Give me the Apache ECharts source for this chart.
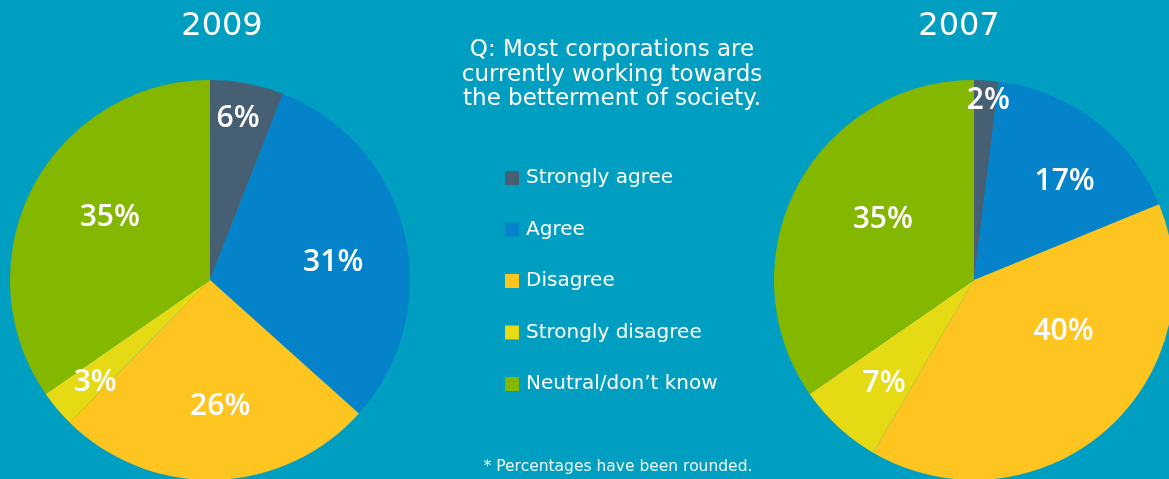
<!DOCTYPE html>
<html>
<head>
<meta charset="utf-8">
<style>
  html, body { margin: 0; padding: 0; background: #009FC1; }
  #chart { width: 1169px; height: 479px; }
</style>
<script src="https://cdn.jsdelivr.net/npm/echarts@6/dist/echarts.min.js"></script>
</head>
<body>
<div id="chart"></div>
<script>
// Survey answer categories (shared by both years)
const categories = ['Strongly agree', 'Agree', 'Disagree', 'Strongly disagree', 'Neutral/don\u2019t know'];
// Rounded percentages per year
const values2009 = [6, 31, 26, 3, 35];
const values2007 = [2, 17, 40, 7, 35];
const yearLabels = ['2009', '2007'];

const colors = ['#475F73', '#0483CA', '#FEC41F', '#E5DA13', '#84B800'];

// Small nudges for the percentage labels away from the slice mid-radius
const labelNudge2009 = [[9, -60], [23, 6], [7, 24], [-36, 36], [-9, -15]];
const labelNudge2007 = [[8, -77], [28, -17], [22, -26], [-20, 28], [0, -13]];

const FONT = '"Open Sans", "DejaVu Sans", sans-serif';
const WIDE = '"DejaVu Sans", "Open Sans", sans-serif';

function pieSeries(name, values, center, nudges) {
  return {
    name: name,
    type: 'pie',
    center: center,
    radius: 200,
    startAngle: 90,
    clockwise: true,
    silent: true,
    animation: false,
    itemStyle: { borderWidth: 0 },
    label: {
      show: true,
      position: 'inside',
      formatter: '{c}%',
      color: '#ffffff',
      fontFamily: FONT,
      fontWeight: 600,
      fontSize: 30
    },
    labelLine: { show: false },
    labelLayout: function (p) {
      const n = nudges[p.dataIndex];
      return { dx: n[0], dy: n[1] };
    },
    data: categories.map((c, i) => ({ name: c, value: values[i] }))
  };
}

const chart = echarts.init(document.getElementById('chart'), null, { renderer: 'canvas' });

chart.setOption({
  backgroundColor: '#009FC1',
  color: colors,
  legend: {
    orient: 'vertical',
    left: 505,
    top: 168,
    padding: 0,
    icon: 'rect',
    itemWidth: 14,
    itemHeight: 14,
    itemGap: 31.5,
    selectedMode: false,
    data: categories,
    textStyle: {
      color: '#ffffff',
      fontFamily: WIDE,
      fontSize: 20,
      lineHeight: 20,
      padding: [0, 0, 0, 2]
    }
  },
  graphic: [
    {
      type: 'text', x: 222, y: 27,
      style: { text: yearLabels[0], fill: '#fff', font: '32px ' + WIDE, textAlign: 'center', textVerticalAlign: 'middle' }
    },
    {
      type: 'text', x: 959, y: 27,
      style: { text: yearLabels[1], fill: '#fff', font: '32px ' + WIDE, textAlign: 'center', textVerticalAlign: 'middle' }
    },
    {
      type: 'text', x: 612, y: 75,
      style: {
        text: 'Q: Most corporations are\ncurrently working towards\nthe betterment of society.',
        fill: '#fff', font: '23px ' + WIDE, lineHeight: 24.5,
        textAlign: 'center', textVerticalAlign: 'middle'
      }
    },
    {
      type: 'text', x: 618, y: 467,
      style: { text: '* Percentages have been rounded.', fill: '#eef8fb', font: '15.5px ' + WIDE, textAlign: 'center', textVerticalAlign: 'middle' }
    }
  ],
  series: [
    pieSeries(yearLabels[0], values2009, [210, 280], labelNudge2009),
    pieSeries(yearLabels[1], values2007, [974, 280], labelNudge2007)
  ]
});
</script>
</body>
</html>
